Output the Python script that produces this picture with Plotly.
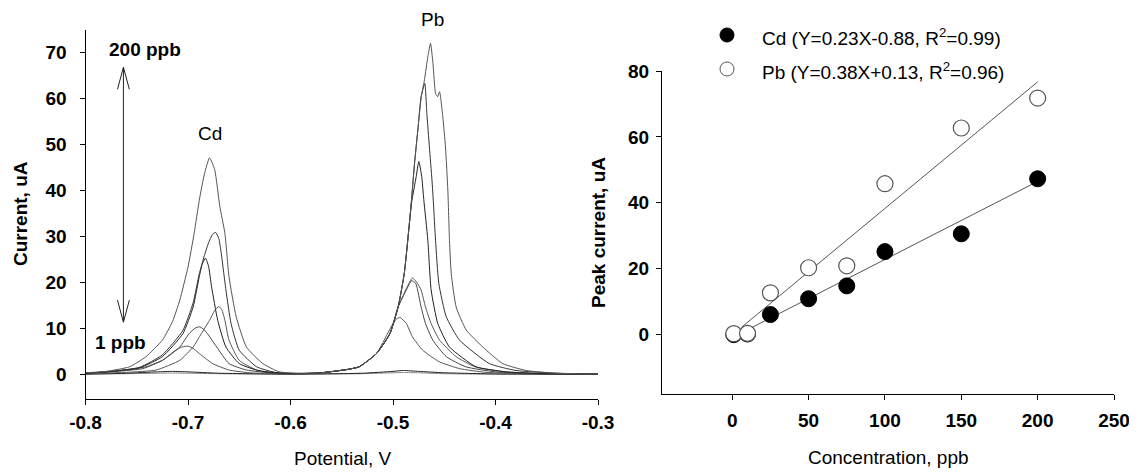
import plotly.graph_objects as go

W, H = 1137, 475          # reference picture size
OFF = 8                   # default page margin of the browser body
WF, HF = W - OFF, H - OFF # figure size so that it ends at the window edge
FONT = "Arial, Liberation Sans, sans-serif"

# ---------------- Left panel: stripping voltammograms ----------------
CONC = [1, 10, 25, 50, 75, 100, 150, 200]

V_1 = [-0.80, -0.76, -0.73, -0.715, -0.70, -0.67, -0.60, -0.53, -0.50, -0.49, -0.475, -0.45, -0.40, -0.30]
I_1 = [0.0, 0.1, 0.2, 0.25, 0.2, 0.1, 0.0, 0.1, 0.3, 0.35, 0.3, 0.1, 0.0, 0.0]

V_10 = [-0.80, -0.76, -0.73, -0.715, -0.70, -0.67, -0.60, -0.53, -0.50, -0.49, -0.475, -0.45, -0.40, -0.30]
I_10 = [0.0, 0.2, 0.5, 0.6, 0.5, 0.2, 0.0, 0.2, 0.6, 0.8, 0.6, 0.3, 0.05, 0.0]

V_25 = [-0.80, -0.78, -0.76, -0.741, -0.725, -0.712, -0.706, -0.700, -0.695, -0.689, -0.676, -0.660,
        -0.64, -0.61, -0.57, -0.545, -0.533, -0.516, -0.507, -0.500, -0.496, -0.493, -0.487, -0.481,
        -0.471, -0.455, -0.435, -0.41, -0.37, -0.30]
I_25 = [0.2, 0.5, 0.9, 1.6, 3.0, 5.2, 5.9, 6.1, 5.6, 4.5, 2.3, 0.9,
        0.3, 0.1, 0.3, 1.0, 1.6, 4.5, 8.1, 11.0, 12.1, 12.3, 11.0, 8.1,
        5.2, 2.7, 1.2, 0.4, 0.1, 0.0]

V_50 = [-0.80, -0.78, -0.76, -0.744, -0.725, -0.708, -0.699, -0.693, -0.689, -0.685, -0.681, -0.672,
        -0.660, -0.643, -0.62, -0.59, -0.57, -0.545, -0.533, -0.516, -0.503, -0.495, -0.487, -0.482,
        -0.478, -0.476, -0.4726, -0.4683, -0.4612, -0.448, -0.429, -0.40, -0.36, -0.30]
I_50 = [0.1, 0.4, 0.8, 1.2, 3.0, 5.9, 8.8, 10.0, 10.3, 9.8, 8.8, 5.9,
        2.3, 0.9, 0.3, 0.1, 0.3, 1.0, 1.6, 4.5, 8.8, 14.6, 18.3, 20.3,
        19.8, 18.3, 14.6, 11.0, 7.4, 3.8, 1.6, 0.5, 0.1, 0.0]

V_75 = [-0.80, -0.76, -0.731, -0.708, -0.695, -0.687, -0.679, -0.674, -0.670, -0.667, -0.664, -0.660,
        -0.650, -0.633, -0.61, -0.58, -0.57, -0.545, -0.533, -0.516, -0.503, -0.495, -0.487, -0.481,
        -0.477, -0.4726, -0.4683, -0.4628, -0.4546, -0.4384, -0.42, -0.39, -0.35, -0.30]
I_75 = [0.1, 0.4, 0.9, 3.0, 5.9, 8.8, 11.7, 13.8, 14.7, 14.0, 11.7, 7.4,
        3.0, 0.9, 0.2, 0.1, 0.3, 1.0, 1.6, 4.5, 8.8, 14.6, 18.6, 20.9,
        20.0, 18.3, 14.6, 11.0, 7.4, 3.8, 1.6, 0.5, 0.1, 0.0]

V_100 = [-0.80, -0.775, -0.747, -0.725, -0.705, -0.695, -0.689, -0.686, -0.683, -0.680, -0.677, -0.671,
         -0.663, -0.650, -0.63, -0.60, -0.57, -0.545, -0.533, -0.516, -0.503, -0.495, -0.489, -0.484,
         -0.4817, -0.4774, -0.4748, -0.472, -0.470, -0.466, -0.4628, -0.4563, -0.4449, -0.419, -0.39,
         -0.35, -0.30]
I_100 = [0.2, 0.6, 1.4, 3.8, 8.8, 14.6, 21.2, 24.0, 25.2, 23.5, 19.0, 11.7,
         5.9, 2.3, 0.7, 0.1, 0.3, 1.0, 1.6, 4.5, 8.8, 14.6, 21.9, 32.8,
         37.5, 42.9, 46.2, 43.0, 38.0, 29.1, 18.3, 11.0, 5.9, 1.6, 0.5,
         0.1, 0.0]

V_150 = [-0.80, -0.775, -0.747, -0.725, -0.705, -0.695, -0.689, -0.684, -0.680, -0.676, -0.673, -0.670,
         -0.668, -0.663, -0.658, -0.650, -0.633, -0.615, -0.59, -0.57, -0.545, -0.533, -0.516, -0.503,
         -0.495, -0.489, -0.484, -0.4817, -0.479, -0.4758, -0.4726, -0.469, -0.467, -0.4645, -0.462,
         -0.4605, -0.4585, -0.4553, -0.4481, -0.4351, -0.406, -0.38, -0.34, -0.30]
I_150 = [0.2, 0.6, 1.5, 4.2, 9.5, 15.5, 21.8, 25.8, 28.5, 30.4, 30.8, 29.5,
         27.0, 18.3, 11.0, 5.2, 1.6, 0.4, 0.1, 0.3, 1.0, 1.6, 4.5, 8.8,
         14.6, 21.9, 32.8, 38.5, 45.8, 53.0, 60.3, 63.2, 56.7, 49.4, 42.2,
         37.0, 29.1, 19.7, 12.5, 7.4, 2.3, 0.8, 0.2, 0.0]

V_200 = [-0.80, -0.78, -0.757, -0.741, -0.725, -0.715, -0.708, -0.700, -0.694, -0.689, -0.684, -0.679,
         -0.674, -0.669, -0.664, -0.660, -0.653, -0.643, -0.627, -0.611, -0.59, -0.57, -0.545, -0.533,
         -0.516, -0.503, -0.495, -0.489, -0.484, -0.4817, -0.479, -0.4758, -0.4726, -0.4693, -0.466,
         -0.4634, -0.461, -0.4585, -0.4565, -0.4546, -0.4514, -0.4488, -0.4465, -0.4449, -0.4432,
         -0.4384, -0.4286, -0.4124, -0.393, -0.37, -0.34, -0.30]
I_200 = [0.3, 0.6, 1.6, 3.8, 7.4, 11.5, 16.1, 23.3, 30.6, 37.8, 43.5, 47.0,
         44.5, 36.5, 30.6, 21.2, 12.5, 5.9, 2.3, 0.5, 0.2, 0.3, 1.0, 1.6,
         4.5, 8.8, 14.6, 21.9, 32.8, 38.5, 45.8, 53.0, 60.0, 64.0, 69.0,
         71.9, 67.5, 61.0, 60.3, 61.4, 55.9, 49.4, 40.0, 29.1, 21.9,
         14.6, 9.6, 5.9, 2.3, 0.8, 0.2, 0.0]

CURVES_V = [V_1, V_10, V_25, V_50, V_75, V_100, V_150, V_200]
CURVES_I = [I_1, I_10, I_25, I_50, I_75, I_100, I_150, I_200]
CURVE_COLORS = ["#888888", "#222222", "#555555", "#444444", "#555555", "#222222", "#333333", "#555555"]

LEFT_X_TICKS = [-0.8, -0.7, -0.6, -0.5, -0.4, -0.3]
LEFT_X_LABELS = ["-0.8", "-0.7", "-0.6", "-0.5", "-0.4", "-0.3"]
LEFT_Y_TICKS = [0, 10, 20, 30, 40, 50, 60, 70]

# ---------------- Right panel: calibration ----------------
CAL_CONC = [1, 10, 25, 50, 75, 100, 150, 200]
CD_PEAK = [0.0, 0.2, 6.1, 10.9, 14.8, 25.2, 30.6, 47.3]
PB_PEAK = [0.3, 0.4, 12.7, 20.3, 20.9, 45.8, 62.7, 71.8]
CD_FIT_X = [10, 200]
CD_FIT_Y = [1.5, 46.5]
PB_FIT_X = [6.5, 200]
PB_FIT_Y = [2.4, 76.7]
CD_LABEL = "Cd (Y=0.23X-0.88, R<sup>2</sup>=0.99)"
PB_LABEL = "Pb (Y=0.38X+0.13, R<sup>2</sup>=0.96)"
RIGHT_X_TICKS = [0, 50, 100, 150, 200, 250]
RIGHT_Y_TICKS = [0, 20, 40, 60, 80]


def fx(p):
    """window pixel x -> paper fraction"""
    return (p - OFF) / WF


def fy(p):
    """window pixel y (from top) -> paper fraction"""
    return 1 - (p - OFF) / HF


fig = go.Figure()

for v, i, c, col in zip(CURVES_V, CURVES_I, CONC, CURVE_COLORS):
    fig.add_trace(go.Scatter(x=v, y=i, mode="lines", name=f"{c} ppb",
                             line=dict(color=col, width=1, shape="spline", smoothing=0.5),
                             xaxis="x", yaxis="y", showlegend=False))

fig.add_trace(go.Scatter(x=CD_FIT_X, y=CD_FIT_Y, mode="lines", line=dict(color="#555555", width=1),
                         xaxis="x2", yaxis="y2", showlegend=False))
fig.add_trace(go.Scatter(x=PB_FIT_X, y=PB_FIT_Y, mode="lines", line=dict(color="#555555", width=1),
                         xaxis="x2", yaxis="y2", showlegend=False))
fig.add_trace(go.Scatter(x=CAL_CONC, y=CD_PEAK, mode="markers", name="Cd",
                         marker=dict(size=16, color="black", line=dict(color="black", width=1)),
                         xaxis="x2", yaxis="y2", showlegend=False))
fig.add_trace(go.Scatter(x=CAL_CONC, y=PB_PEAK, mode="markers", name="Pb",
                         marker=dict(size=16, color="white", line=dict(color="#555555", width=1.2)),
                         xaxis="x2", yaxis="y2", showlegend=False))

axis_common = dict(showline=True, linecolor="black", linewidth=1, ticks="outside", ticklen=5,
                   tickwidth=1, tickcolor="black", showgrid=False, zeroline=False, automargin=False,
                   tickfont=dict(family=FONT, size=19, color="black", weight="bold"))

fig.update_layout(
    width=WF, height=HF,
    margin=dict(l=0, r=0, t=0, b=0),
    paper_bgcolor="white", plot_bgcolor="white",
    font=dict(family=FONT, size=19, color="black"),
    xaxis=dict(domain=[fx(85.5), fx(598)], range=[-0.8, -0.3], tickvals=LEFT_X_TICKS,
               ticktext=LEFT_X_LABELS, anchor="y", ticklabelstandoff=1, **axis_common),
    yaxis=dict(domain=[fy(399), fy(30)], range=[-5.4, 74.8], tickvals=LEFT_Y_TICKS,
               anchor="x", ticklabelstandoff=9, **axis_common),
    xaxis2=dict(domain=[fx(662), fx(1114)], range=[-46, 250], tickvals=RIGHT_X_TICKS,
                anchor="y2", ticklabelstandoff=4, **axis_common),
    yaxis2=dict(domain=[fy(394), fy(71)], range=[-18, 80], tickvals=RIGHT_Y_TICKS,
                anchor="x2", ticklabelstandoff=3, **axis_common),
)


def label(text, px, py, **kw):
    opts = dict(x=fx(px), y=fy(py), xref="paper", yref="paper", showarrow=False,
                xanchor="center", yanchor="middle")
    opts.update(kw)
    fig.add_annotation(text=text, **opts)


# axis titles
label("<b>Current, uA</b>", 20, 214, textangle=-90)
label("Potential, V", 342, 458)
label("<b>Peak current, uA</b>", 598, 233, textangle=-90)
label("Concentration, ppb", 888, 457)

# left panel labels
label("<b>200 ppb</b>", 145, 49)
label("<b>1 ppb</b>", 120, 342)
label("Cd", 210, 133)
label("Pb", 432, 20)

# double-headed arrow (200 ppb <-> 1 ppb)
AX = -0.763
A_TOP, A_BOT = 66.7, 11.3
HW, HL = 0.0058, 4.8
arrow_line = dict(color="#222222", width=1)
fig.add_shape(type="line", x0=AX, x1=AX, y0=A_BOT, y1=A_TOP, xref="x", yref="y", line=arrow_line)
fig.add_shape(type="path", xref="x", yref="y", line=arrow_line,
              path=f"M {AX-HW},{A_TOP-HL} L {AX},{A_TOP} L {AX+HW},{A_TOP-HL}")
fig.add_shape(type="path", xref="x", yref="y", line=arrow_line,
              path=f"M {AX-HW},{A_BOT+HL} L {AX},{A_BOT} L {AX+HW},{A_BOT+HL}")

# manual legend for calibration panel
R = 7
fig.add_shape(type="circle", xref="paper", yref="paper", x0=fx(727 - R), x1=fx(727 + R),
              y0=fy(35 + R), y1=fy(35 - R), fillcolor="black", line=dict(color="black", width=1))
fig.add_shape(type="circle", xref="paper", yref="paper", x0=fx(727 - R), x1=fx(727 + R),
              y0=fy(69 + R), y1=fy(69 - R), fillcolor="white", line=dict(color="#555555", width=1))
label(CD_LABEL, 760, 37, xanchor="left")
label(PB_LABEL, 760, 71, xanchor="left")

fig.write_html("out.html")
